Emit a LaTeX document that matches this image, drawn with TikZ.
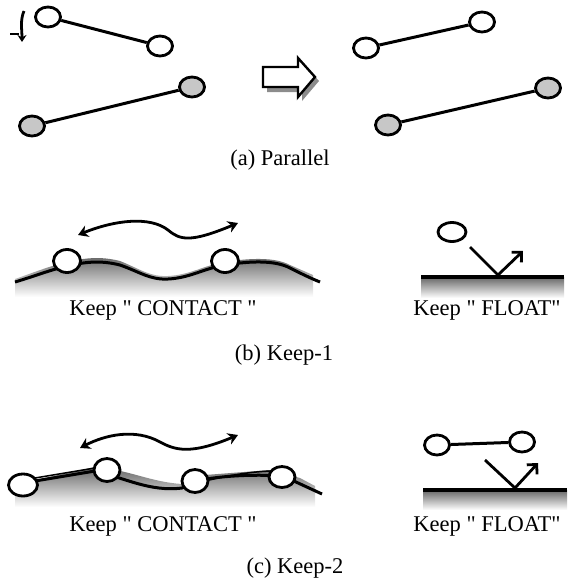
\documentclass[tikz,border=0pt]{standalone}
\usepackage{fontspec}
\setmainfont{Liberation Serif}[Ligatures=TeXOff]
\usetikzlibrary{shapes.geometric,arrows.meta}
\newcommand\dq{\char34\relax}
\tikzset{
  ball/.style={ellipse,draw,line width=2.8pt,fill=white,inner sep=0pt,minimum width=25pt,minimum height=20pt},
  gball/.style={ball,fill=black!22},
  link/.style={line width=3pt},
  ground/.style={line width=3pt},
  wavearrow/.style={line width=2.8pt,{Stealth[length=10pt,width=12pt]}-{Stealth[length=10pt,width=12pt]}},
  bounce/.style={line width=2.8pt,-{Straight Barb[length=7pt,width=14pt,line width=2.8pt]}},
  captxt/.style={font=\fontsize{22.5}{24}\selectfont,inner sep=0pt,anchor=base},
  lbl/.style={font=\fontsize{22.5}{24}\selectfont,inner sep=0pt,anchor=base},
  shadefill/.style={top color=black!60,bottom color=white,draw=none},
}
\begin{document}
\begin{tikzpicture}[x=1pt,y=-1pt]
\useasboundingbox (0,0) rectangle (576,579);
% ---------- (a) ----------
\draw[line width=2.8pt,-{Stealth[length=7pt,width=9pt]}] (24,11) .. controls (20,20) and (22,30) .. (22,42);
\draw[line width=2.8pt] (10,34) -- (19,34);
\node[ball] (a1) at (48,17) {};
\node[ball] (a2) at (160,46) {};
\draw[link] (a1) -- (a2);
\node[gball] (a3) at (32,126) {};
\node[gball] (a4) at (192,87) {};
\draw[link] (a3) -- (a4);
% block arrow with shadow
\fill[black!45] (267,72) -- (302,72) -- (302,62) -- (319,81) -- (302,101) -- (302,92) -- (267,92) -- cycle;
\draw[line width=2.4pt,fill=white] (263,67) -- (298,67) -- (298,58) -- (315,77) -- (298,97) -- (298,87) -- (263,87) -- cycle;
\node[ball] (a5) at (366,48) {};
\node[ball] (a6) at (482,22) {};
\draw[link] (a5) -- (a6);
\node[gball] (a7) at (388,125) {};
\node[gball] (a8) at (548,88) {};
\draw[link] (a7) -- (a8);
\node[captxt] (capa) at (280,165) {(a) Parallel};
% ---------- (b) ----------
\shade[shadefill] (15,279) .. controls (35,272) and (50,266) .. (67,262) .. controls (85,258) and (100,256) .. (120,261) .. controls (140,269) and (150,277) .. (168,276) .. controls (190,275) and (205,265) .. (225,262) .. controls (250,258) and (275,257) .. (290,265) -- (313,275) -- (313,297) -- (15,297) -- cycle;
\draw[ground] (15,282) .. controls (35,276) and (50,270) .. (67,266) .. controls (85,262) and (100,260) .. (120,265) .. controls (140,272) and (150,280) .. (168,279) .. controls (190,278) and (205,268) .. (225,265) .. controls (250,261) and (275,260) .. (290,268) .. controls (300,273) and (310,278) .. (320,282);
\node[ball,minimum width=27pt,minimum height=23pt] (b1) at (67,261) {};
\node[ball,minimum width=27pt,minimum height=23pt] (b2) at (225,261) {};
\coordinate (bl) at (78,235);
\coordinate (br) at (238,223);
\draw[wavearrow] (bl) .. controls (115,220) and (150,216) .. (168,230) .. controls (180,240) and (190,243) .. (br);
\node[lbl] (tb1) at (163,315) {Keep \dq\ CONTACT \dq};
% float (b)
\shade[shadefill] (421,277) rectangle (564,298);
\draw[ground,line width=3.5pt] (421,277) -- (564,277);
\node[ball,minimum width=28pt,minimum height=19pt] (b3) at (452,232) {};
\coordinate (bf1) at (470,247);
\coordinate (bf2) at (498,275);
\coordinate (bf3) at (523,251);
\draw[bounce] (bf1) -- (bf2) -- (bf3);
\node[lbl] (tb2) at (487,315) {Keep \dq\ FLOAT\dq};
\node[captxt] (capb) at (284,360) {(b) Keep-1};
% ---------- (c) ----------
\shade[shadefill] (15,488) -- (35,480) -- (95,467) .. controls (130,470) and (150,482) .. (182,484) -- (205,475) -- (270,470) -- (300,478) -- (315,486) -- (315,507) -- (15,507) -- cycle;
\draw[ground] (15,490) -- (35,481) -- (95,471);
\draw[line width=1.5pt] (35,478) -- (95,468);
\draw[ground] (95,471) .. controls (125,478) and (150,492) .. (182,488) -- (195,481);
\draw[ground] (195,481) .. controls (220,476) and (250,474) .. (283,476);
\draw[line width=1.5pt] (205,481) .. controls (230,475) and (250,472) .. (270,471);
\draw[ground] (283,476) -- (322,494);
\node[ball,minimum width=29pt,minimum height=22pt] (c1) at (23,485) {};
\node[ball,minimum width=26pt,minimum height=23pt] (c2) at (107,470) {};
\node[ball,minimum width=26pt,minimum height=23pt] (c3) at (195,481) {};
\node[ball,minimum width=26pt,minimum height=21pt] (c4) at (282,477) {};
\coordinate (cl) at (80,448);
\coordinate (cr) at (238,435);
\draw[wavearrow] (cl) .. controls (105,435) and (135,428) .. (160,442) .. controls (175,450) and (190,455) .. (cr);
\node[lbl] (tc1) at (163,531) {Keep \dq\ CONTACT \dq};
% float (c)
\shade[shadefill] (423,490) rectangle (567,510);
\draw[ground,line width=3.5pt] (423,490) -- (567,490);
\node[ball] (c5) at (437,445) {};
\node[ball] (c6) at (522,442) {};
\draw[link] (c5) -- (c6);
\coordinate (cf1) at (485,460);
\coordinate (cf2) at (515,488);
\coordinate (cf3) at (538,463);
\draw[bounce] (cf1) -- (cf2) -- (cf3);
\node[lbl] (tc2) at (487,531) {Keep \dq\ FLOAT\dq};
\node[captxt] (capc) at (295,573) {(c) Keep-2};
\end{tikzpicture}
\end{document}
